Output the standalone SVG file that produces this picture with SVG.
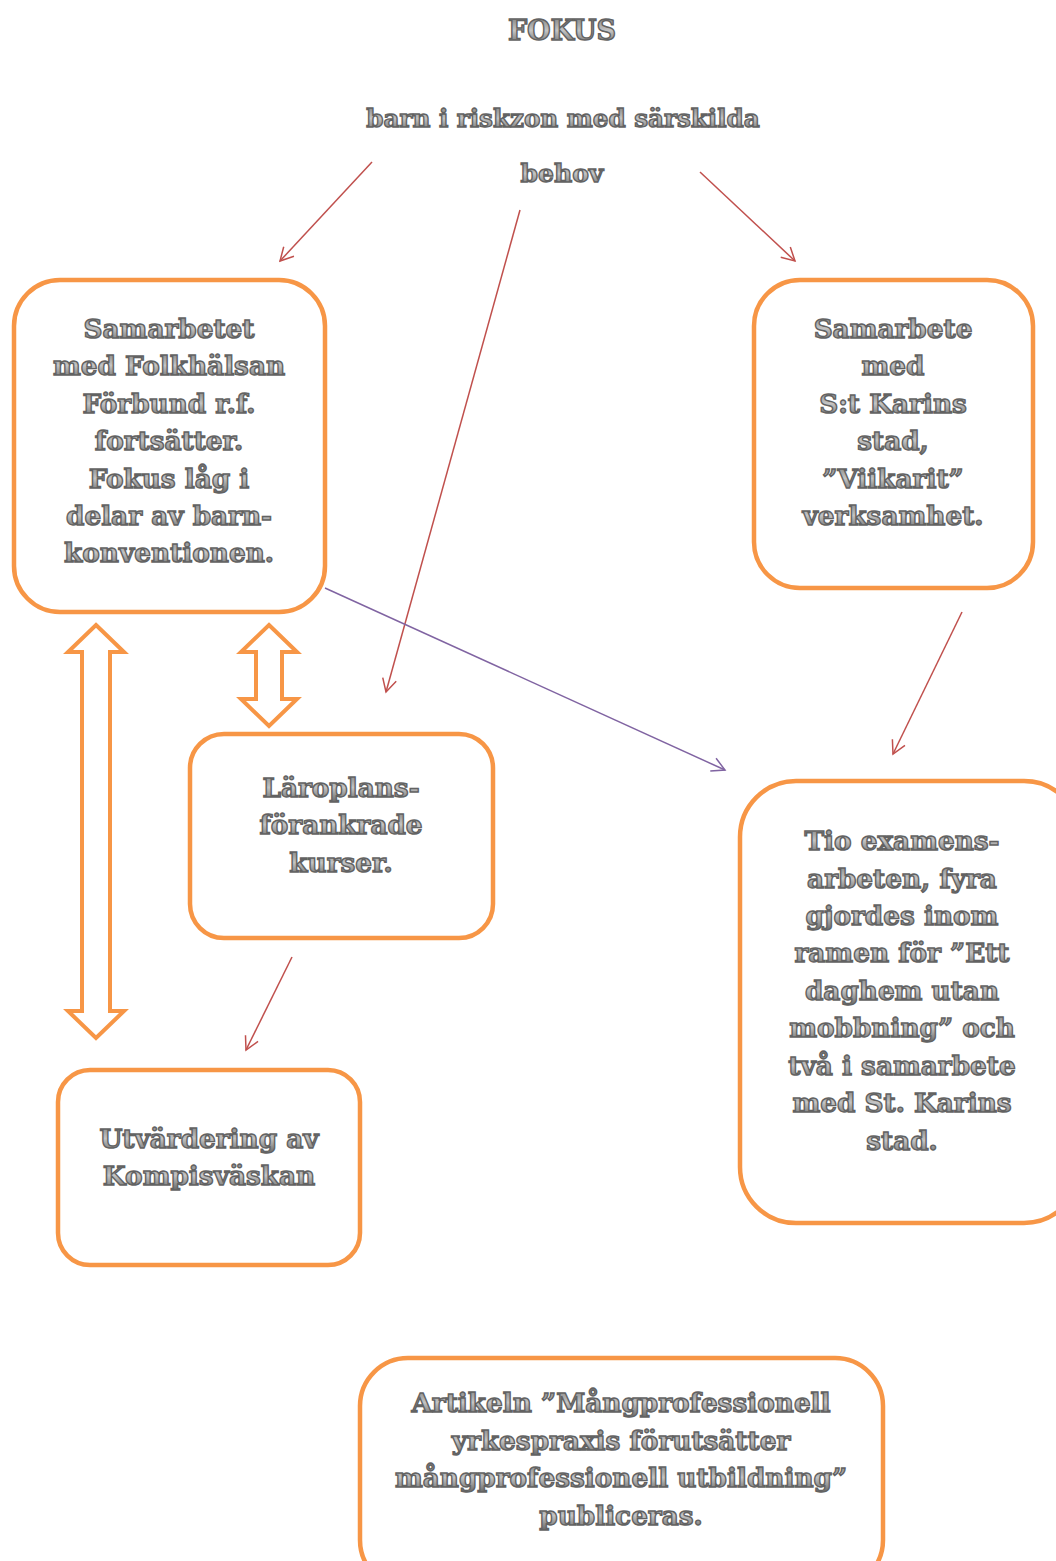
<svg xmlns="http://www.w3.org/2000/svg" width="1056" height="1561" viewBox="0 0 1056 1561">
<defs>
<linearGradient id="tg" x1="0" y1="0" x2="0" y2="1">
<stop offset="0" stop-color="#7a7a7a"/>
<stop offset="0.5" stop-color="#c4c4c4"/>
<stop offset="1" stop-color="#626262"/>
</linearGradient>
<marker id="ar" markerWidth="16" markerHeight="16" refX="14" refY="8" orient="auto" markerUnits="userSpaceOnUse">
<path d="M1,1 L14,8 L1,15" fill="none" stroke="#C0504D" stroke-width="1.5"/>
</marker>
<marker id="ap" markerWidth="16" markerHeight="16" refX="14" refY="8" orient="auto" markerUnits="userSpaceOnUse">
<path d="M1,1 L14,8 L1,15" fill="none" stroke="#8064A2" stroke-width="1.5"/>
</marker>
</defs>
<style>
.t{font-family:"DejaVu Serif","Liberation Serif",serif;font-weight:bold;font-size:26.3px;text-anchor:middle;fill:url(#tg);stroke:#626262;stroke-width:1.4px}
.box{fill:#fff;stroke:#F79646;stroke-width:4.5}
.red{stroke:#C0504D;stroke-width:1.5;fill:none;marker-end:url(#ar)}
.pur{stroke:#8064A2;stroke-width:1.5;fill:none;marker-end:url(#ap)}
.blk{fill:#fff;stroke:#F79646;stroke-width:4;stroke-linejoin:miter}
</style>
<rect width="1056" height="1561" fill="#fff"/>

<g id="title">
<text class="t" x="562" y="40" style="font-size:27px">FOKUS</text>
<text class="t" x="563" y="127" style="font-size:24.6px">barn i riskzon med särskilda</text>
<text class="t" x="562" y="182" style="font-size:25px">behov</text>
</g>

<g id="connectors">
<line class="red" x1="372" y1="162" x2="280" y2="261"/>
<line class="red" x1="520" y1="210" x2="386" y2="692"/>
<line class="red" x1="700" y1="172" x2="795" y2="261"/>
<line class="pur" x1="325" y1="588" x2="725" y2="770"/>
<line class="red" x1="962" y1="612" x2="893" y2="754"/>
<line class="red" x1="292" y1="957" x2="246" y2="1050"/>
<path class="blk" d="M96,625 L124,652 L110,652 L110,1011 L124,1011 L96,1038 L68,1011 L82,1011 L82,652 L68,652 Z"/>
<path class="blk" d="M269,625 L297,652 L282,652 L282,699 L297,699 L269,726 L241,699 L256,699 L256,652 L241,652 Z"/>
</g>

<g id="node-folkhalsan">
<rect class="box" x="14" y="280" width="311" height="332" rx="46"/>
<text class="t" x="169" y="338">Samarbetet</text>
<text class="t" x="169" y="375">med Folkhälsan</text>
<text class="t" x="169" y="413">Förbund r.f.</text>
<text class="t" x="169" y="450">fortsätter.</text>
<text class="t" x="169" y="488">Fokus låg i</text>
<text class="t" x="169" y="525">delar av barn-</text>
<text class="t" x="169" y="562">konventionen.</text>
</g>

<g id="node-stkarins">
<rect class="box" x="754" y="280" width="279" height="308" rx="46"/>
<text class="t" x="893" y="338">Samarbete</text>
<text class="t" x="893" y="375">med</text>
<text class="t" x="893" y="413">S:t Karins</text>
<text class="t" x="893" y="450">stad,</text>
<text class="t" x="893" y="488">”Viikarit”</text>
<text class="t" x="893" y="525">verksamhet.</text>
</g>

<g id="node-laroplan">
<rect class="box" x="190" y="734" width="303" height="204" rx="34"/>
<text class="t" x="341" y="797">Läroplans-</text>
<text class="t" x="341" y="834">förankrade</text>
<text class="t" x="341" y="872">kurser.</text>
</g>

<g id="node-examensarbeten">
<rect class="box" x="740" y="781" width="340" height="442" rx="56"/>
<text class="t" x="902" y="850">Tio examens-</text>
<text class="t" x="902" y="888">arbeten, fyra</text>
<text class="t" x="902" y="925">gjordes inom</text>
<text class="t" x="902" y="962">ramen för ”Ett</text>
<text class="t" x="902" y="1000">daghem utan</text>
<text class="t" x="902" y="1037">mobbning” och</text>
<text class="t" x="902" y="1075">två i samarbete</text>
<text class="t" x="902" y="1112">med St. Karins</text>
<text class="t" x="902" y="1150">stad.</text>
</g>

<g id="node-kompisvaskan">
<rect class="box" x="58" y="1070" width="302" height="195" rx="32"/>
<text class="t" x="209" y="1148">Utvärdering av</text>
<text class="t" x="209" y="1185">Kompisväskan</text>
</g>

<g id="node-artikeln">
<rect class="box" x="360" y="1358" width="523" height="230" rx="48"/>
<text class="t" x="621" y="1412">Artikeln ”Mångprofessionell</text>
<text class="t" x="621" y="1450">yrkespraxis förutsätter</text>
<text class="t" x="621" y="1487">mångprofessionell utbildning”</text>
<text class="t" x="621" y="1525">publiceras.</text>
</g>
</svg>
